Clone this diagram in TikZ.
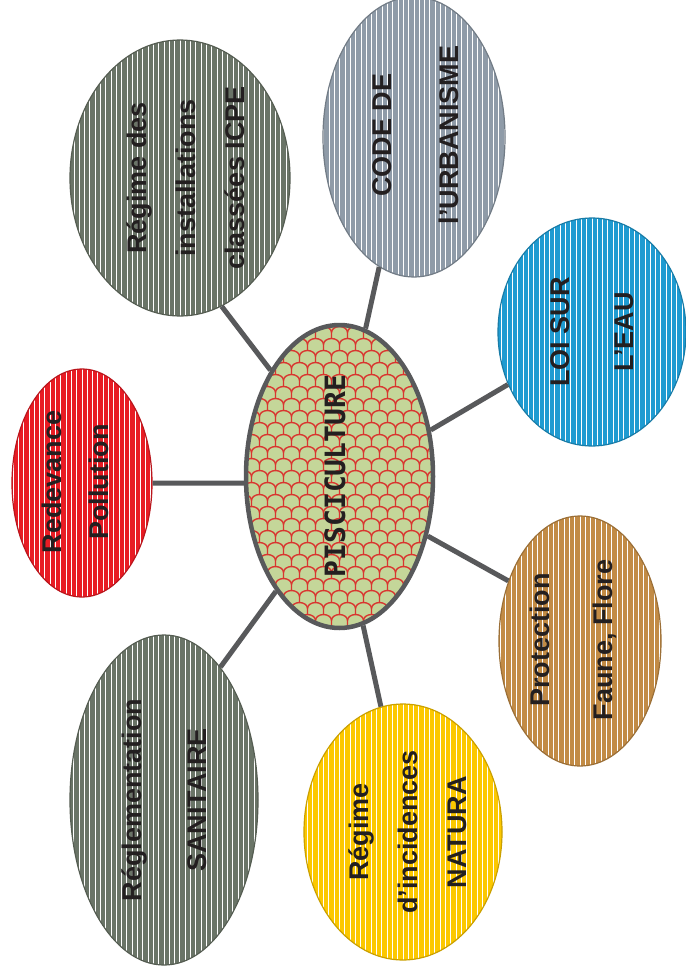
\documentclass[tikz,border=0pt]{standalone}
\usepackage{fontspec}
\setmainfont{Liberation Sans}
\newfontfamily\monofont{DejaVu Sans Mono}
\usetikzlibrary{shapes.geometric,calc}

\definecolor{grayg}{HTML}{6A7467}
\definecolor{bluegray}{HTML}{8F9BA8}
\definecolor{water}{HTML}{1F9BD1}
\definecolor{brown}{HTML}{C28B45}
\definecolor{gold}{HTML}{FCC800}
\definecolor{redc}{HTML}{E81C24}
\definecolor{inktxt}{HTML}{231F20}
\definecolor{linkc}{HTML}{58595B}
\definecolor{scalegreen}{HTML}{C4D699}
\definecolor{scalered}{HTML}{D9352F}

\tikzset{
  every bubble/.style={ellipse, inner sep=0pt, line width=1.2pt},
  stripes/.style={path picture={
    \foreach \k in {-22,...,22}
      \draw[white, line width=0.9pt] ([xshift=\k*5.3pt]path picture bounding box.north)
        -- ([xshift=\k*5.3pt]path picture bounding box.south);}},
  link/.style={draw=linkc, line width=5pt},
  lbl/.style={text=inktxt, align=center, rotate=90, inner sep=0pt}
}

\begin{document}
\begin{tikzpicture}[x=1pt, y=-1pt]

\fill[white] (0,0) rectangle (685,979);
\useasboundingbox (0,0) rectangle (685,979);

% centre
\node [ellipse, draw=linkc, line width=4.5pt, fill=scalegreen,
  minimum width=187pt, minimum height=303pt,
  path picture={
    \foreach \r in {-14,...,14}
      \foreach \c in {-7,...,7}
        \draw[scalered, line width=1.4pt]
          ($(path picture bounding box.center)+({\c*16+mod(\r+14,2)*8-8},{\r*12})$)
          arc (180:0:8pt and 6pt) -- ++(0,6);}] (pisc) at (339.5,476.5) {};

% outer bubbles
\foreach \n/\x/\y/\w/\h/\c in {icpe/180/178/220/276/grayg, code/414/137/182/280/bluegray,
    eau/592/332/188/228/water, faune/580/641/162/250/brown, natura/403/832/198/256/gold,
    sanit/164/800/188/330/grayg, redev/82/483/140/228/redc}
  \node [every bubble, fill=\c, draw=\c!80!black, stripes,
    minimum width=\w pt, minimum height=\h pt] (\n) at (\x,\y) {};

\foreach \n/\a/\b in {icpe/123/-72, code/80/-105, eau/27/-148, faune/-34/140,
    natura/-81/100, sanit/-119/67, redev/184/0}
  \draw [link] (pisc.\a) -- (\n.\b);

% labels
\node [lbl, font=\monofont\bfseries\fontsize{28}{30}\selectfont] (pisc-txt) at (335,476) {PISCICULTURE};

\foreach \n/\x/\y/\s/\t in {icpe/186/178/49/{Régime des\\installations\\classées ICPE},
    code/416/135/67/{CODE DE\\l’URBANISME}, eau/592/332/64/{LOI SUR\\L’EAU},
    faune/573/640/63/{Protection\\Faune, Flore}, natura/408/832/49/{Régime\\d’incidences\\NATURA},
    sanit/164/800/65/{Réglementation\\SANITAIRE}, redev/75/482/47/{Redevance\\Pollution}}
  \node [lbl, font=\bfseries\fontsize{27}{\s}\selectfont] (\n-txt) at (\x,\y) {\t};

\end{tikzpicture}
\end{document}
